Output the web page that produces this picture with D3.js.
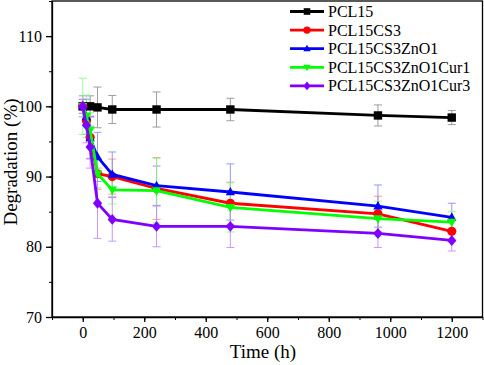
<!DOCTYPE html>
<meta charset="utf-8">
<script src="https://d3js.org/d3.v7.min.js"></script>
<style>
  body { margin: 0; background: #fff; }
  text { font-family: "Liberation Serif", "Times New Roman", serif; }
</style>
<body>
<div id="viz"></div>
<script>

// data
const timesBlack = [0, 24, 48, 96, 240, 480, 960, 1200];
const times = [0, 12, 24, 48, 96, 240, 480, 960, 1200];

const pcl15 = [100, 100, 99.85, 99.55, 99.55, 99.55, 98.7, 98.4];
const pcl15Err = [0.5, 1.5, 2.9, 2.0, 2.5, 1.6, 1.5, 1.0];

const cs3 = [100, 98.0, 95.6, 90.4, 90.0, 88.3, 86.2, 84.7, 82.2];
const cs3Err = [1.0, 2.0, 3.0, 2.2, 2.5, 4.4, 3.0, 2.5, 1.5];

const zno1 = [100, 98.5, 95.5, 92.8, 90.3, 88.7, 87.8, 85.8, 84.2];
const zno1Err = [1.5, 2.5, 3.0, 3.5, 3.2, 2.8, 4.0, 3.0, 2.0];

const cur1 = [100, 98.6, 96.6, 90.4, 88.1, 88.0, 85.6, 84.0, 83.5];
const cur1Err = [4.0, 3.0, 2.5, 2.0, 2.0, 4.6, 3.5, 2.5, 1.5];

const cur3 = [100, 97.3, 94.2, 86.2, 83.9, 82.9, 82.9, 81.9, 80.9];
const cur3Err = [1.0, 2.5, 3.0, 5.0, 3.1, 2.9, 3.0, 2.0, 1.5];

const seriesNames = ["PCL15", "PCL15CS3", "PCL15CS3ZnO1", "PCL15CS3ZnO1Cur1", "PCL15CS3ZnO1Cur3"];
const colors = ["#000000", "#ff0000", "#0000ff", "#00ff00", "#8000ff"];
const errColors = ["#888888", "#ff8080", "#8080ff", "#80ff80", "#c080ff"];
const symbols = ["square", "circle", "triangle", "down", "diamond"];

const xTicks = [0, 200, 400, 600, 800, 1000, 1200];
const yTicks = [70, 80, 90, 100, 110];

const series = [
  { t: timesBlack, v: pcl15, e: pcl15Err },
  { t: times, v: cs3, e: cs3Err },
  { t: times, v: zno1, e: zno1Err },
  { t: times, v: cur1, e: cur1Err },
  { t: times, v: cur3, e: cur3Err }
].map((s, i) => ({
  name: seriesNames[i], color: colors[i], ecolor: errColors[i], sym: symbols[i],
  pts: s.t.map((t, j) => ({ t: t, v: s.v[j], e: s.e[j] }))
}));

const FONT = "Liberation Serif, Times New Roman, serif";
const W = 484, H = 365;
const margin = { top: 1, right: 1.5, bottom: 48, left: 52 };
const width = W - margin.left - margin.right,
      height = H - margin.top - margin.bottom;

const svgRoot = d3.select("#viz").append("svg")
  .attr("width", W).attr("height", H);
const svg = svgRoot.append("g")
  .attr("transform", `translate(${margin.left}, ${margin.top})`);

const x = d3.scaleLinear().domain([-100, 1300]).range([0, width]);
const y = d3.scaleLinear().domain([70, 115]).range([height, 0]);

// minor ticks
svg.append("g")
  .attr("transform", `translate(0, ${height})`)
  .call(d3.axisBottom(x).tickValues(d3.range(-100, 1301, 100)).tickSize(3).tickFormat(""))
  .call(g => g.select(".domain").remove());
svg.append("g")
  .call(d3.axisLeft(y).tickValues(d3.range(75, 116, 5)).tickSize(3).tickFormat(""))
  .call(g => g.select(".domain").remove());

// major axes
const xAxis = svg.append("g")
  .attr("transform", `translate(0, ${height})`)
  .call(d3.axisBottom(x).tickValues(xTicks).tickFormat(d3.format("d"))
    .tickSize(5).tickSizeOuter(0).tickPadding(5));
const yAxis = svg.append("g")
  .call(d3.axisLeft(y).tickValues(yTicks).tickFormat(d3.format("d"))
    .tickSize(6).tickSizeOuter(0).tickPadding(4));

[xAxis, yAxis].forEach(a => {
  a.attr("font-family", FONT);
  a.selectAll("text").attr("font-family", FONT).style("font-size", "16px").attr("fill", "#000");
  a.selectAll("line, path").attr("stroke", "#000").attr("stroke-width", 1.3);
});

// frame
svg.append("rect")
  .attr("x", 0).attr("y", 0).attr("width", width).attr("height", height)
  .attr("fill", "none").attr("stroke", "#000").attr("stroke-width", 1.3);

// error bars
series.forEach(s => {
  const g = svg.append("g").attr("stroke", s.ecolor).attr("stroke-width", 0.9).attr("opacity", 0.9);
  s.pts.forEach(p => {
    const cx = x(p.t), y1 = y(p.v + p.e), y2 = y(p.v - p.e);
    g.append("line").attr("x1", cx).attr("x2", cx).attr("y1", y1).attr("y2", y2);
    g.append("line").attr("x1", cx - 4).attr("x2", cx + 4).attr("y1", y1).attr("y2", y1);
    g.append("line").attr("x1", cx - 4).attr("x2", cx + 4).attr("y1", y2).attr("y2", y2);
  });
});

function markerPath(sym, s) {
  if (sym === "square") return `M${-s},${-s}H${s}V${s}H${-s}Z`;
  if (sym === "triangle") return `M0,${-s * 1.2}L${s * 1.1},${s * 0.8}L${-s * 1.1},${s * 0.8}Z`;
  if (sym === "down") return `M0,${s * 1.2}L${s * 1.1},${-s * 0.8}L${-s * 1.1},${-s * 0.8}Z`;
  if (sym === "diamond") return `M0,${-s * 1.3}L${s * 1.1},0L0,${s * 1.3}L${-s * 1.1},0Z`;
  return d3.symbol(d3.symbolCircle, Math.PI * s * s * 1.2)();
}

const line = d3.line().x(d => x(d.t)).y(d => y(d.v));

series.forEach(s => {
  svg.append("path").datum(s.pts)
    .attr("fill", "none").attr("stroke", s.color).attr("stroke-width", 2.8)
    .attr("d", line);
  svg.append("g").selectAll("path").data(s.pts).join("path")
    .attr("transform", d => `translate(${x(d.t)}, ${y(d.v)})`)
    .attr("d", markerPath(s.sym, 4.2))
    .attr("fill", s.color);
});

// legend
const legend = svg.append("g").attr("transform", `translate(${290 - margin.left}, 0)`);
series.forEach((s, i) => {
  const ly = 11.5 + i * 18.6 - margin.top;
  legend.append("line").attr("x1", 0).attr("x2", 34).attr("y1", ly).attr("y2", ly)
    .attr("stroke", s.color).attr("stroke-width", 2.8);
  legend.append("path").attr("transform", `translate(17, ${ly})`)
    .attr("d", markerPath(s.sym, 3.3)).attr("fill", s.color);
  legend.append("text").attr("x", 38).attr("y", ly + 5.5)
    .attr("font-family", FONT).style("font-size", "16px").text(s.name);
});

// axis titles
svgRoot.append("text")
  .attr("x", 263).attr("y", 358)
  .attr("text-anchor", "middle")
  .attr("font-family", FONT).style("font-size", "19px")
  .text("Time (h)");

svgRoot.append("text")
  .attr("transform", "translate(17, 162) rotate(-90)")
  .attr("text-anchor", "middle")
  .attr("font-family", FONT).style("font-size", "19px")
  .text("Degradation (%)");

</script>
</body>
